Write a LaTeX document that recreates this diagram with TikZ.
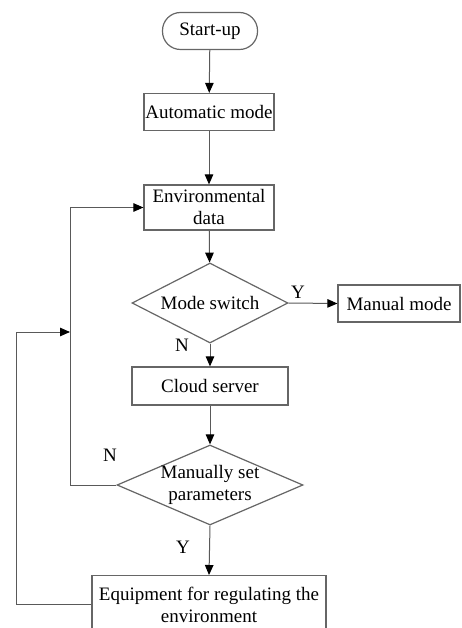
\documentclass[tikz,border=0pt]{standalone}
\usepackage{fontspec}
\setmainfont{Liberation Serif}
\newfontfamily\chartfont{Liberation Serif}
\usetikzlibrary{shapes.geometric,arrows.meta}
\begin{document}
\begin{tikzpicture}[x=1pt,y=-1pt,
  every node/.style={font=\chartfont\fontsize{19}{22}\selectfont},
  line/.style={draw=black!65, line width=1pt},
  flow/.style={line, -{Triangle[length=10pt,width=8.5pt,color=black]}},
  box/.style={rectangle, draw=black!60, line width=1.2pt, inner sep=0pt, align=center},
  pill/.style={box, rounded corners=18pt},
  decision/.style={diamond, draw=black!60, line width=1.2pt, inner sep=0pt},
  tag/.style={inner sep=0pt}]
\useasboundingbox (0,0) rectangle (462,628);
\clip (0,0) rectangle (462,628);

% process steps
\node[pill, minimum width=95pt, minimum height=37pt] (start) at (210,31) {Start-up};
\node[box, minimum width=130pt, minimum height=37pt] (auto) at (209,112) {Automatic mode};
\node[box, minimum width=130pt, minimum height=45pt] (env) at (209,207.5) {Environmental\\data};
\node[decision, minimum width=156pt, minimum height=80pt,
      label={[tag]center:Mode switch}] (mode) at (210,303) {};
\node[box, minimum width=122pt, minimum height=37pt] (manual) at (399,303.5) {Manual mode};
\node[box, minimum width=156pt, minimum height=38pt] (cloud) at (210,386) {Cloud server};
\node[decision, minimum width=186pt, minimum height=80pt,
      label={[tag,align=center]center:Manually set\\parameters}] (set) at (210,485) {};
\node[box, minimum width=234pt, minimum height=58pt, anchor=north] (equip) at (209,575)
      {Equipment for regulating the\\environment};

% main flow
\draw[flow] (start) -- (auto);
\draw[flow] (auto) -- (env);
\draw[flow] (env) -- (mode);
\draw[flow] (mode.east) -- (manual.west);
\draw[flow] (mode.south) -- (cloud.north);
\draw[flow] (cloud) -- (set);
\draw[flow] (set.south) -- (equip.north);

% feedback loops
\coordinate (innerx) at (70,0);
\coordinate (outerx) at (16,0);
\coordinate (merge) at (70,332);
\draw[flow] (set.west) -- (set.west -| innerx) -- (innerx |- env.west) -- (env.west);
\draw[flow] (equip.west) -- (equip.west -| outerx) -- (outerx |- merge) -- (merge);

% branch labels
\node[tag] (ymode) at (298,292) {Y};
\node[tag] (nmode) at (182,345) {N};
\node[tag] (nset) at (110,455) {N};
\node[tag] (yset) at (183,547) {Y};
\end{tikzpicture}
\end{document}
